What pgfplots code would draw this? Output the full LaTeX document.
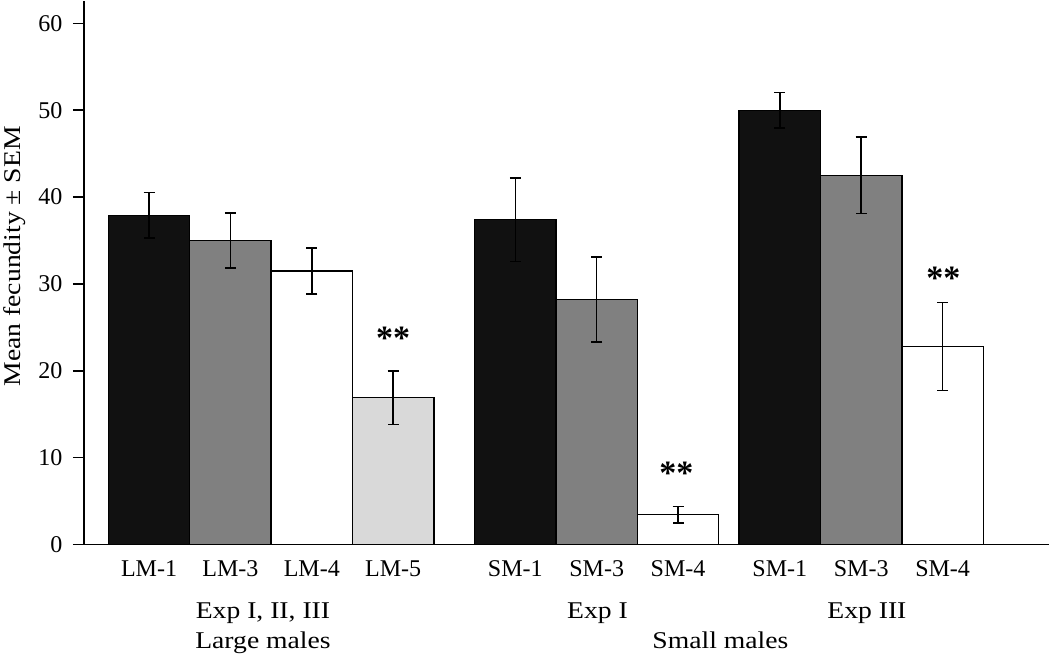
\documentclass[border=0pt]{standalone}
\usepackage{fontspec}
\setmainfont{Liberation Serif}
\usepackage{graphicx}
\usepackage{pgfplots}
\usepackage{pgfplotstable}
\pgfplotsset{compat=1.18}

\definecolor{barblack}{HTML}{111111}
\definecolor{bargray}{HTML}{808080}
\definecolor{barlight}{HTML}{D9D9D9}

% x = bar position, y = mean fecundity, e = SEM
\pgfplotstableread{
x     y     e
0.8   37.9  2.6
5.3   37.4  4.8
8.55  50.0  2.05
}\tblack
\pgfplotstableread{
x     y     e
1.8   35.0  3.15
6.3   28.2  4.9
9.55  42.5  4.4
}\tgray
\pgfplotstableread{
x     y     e
2.8   31.5  2.65
7.3   3.45  0.95
10.55 22.8  5.05
}\twhite
\pgfplotstableread{
x     y     e
3.8   16.9  3.1
}\tlight

% wide text used for the group labels and the y label
\newcommand{\wide}[1]{\scalebox{1.15}[1]{#1}}

\begin{document}
\begin{tikzpicture}[font=\fontsize{24}{28}\selectfont]
\begin{axis}[
  scale only axis, width=964pt, height=543pt,
  xmin=0, xmax=11.86, ymin=0, ymax=62.6,
  axis x line*=bottom, axis y line*=left, axis on top,
  axis line style={line width=1.5pt, -},
  ytick={0,10,...,60}, ytick pos=left,
  tick align=outside, major tick length=11pt,
  ytick style={line width=1.5pt, black},
  xtick={0.8,1.8,2.8,3.8,5.3,6.3,7.3,8.55,9.55,10.55},
  xticklabels={LM-1,LM-3,LM-4,LM-5,SM-1,SM-3,SM-4,SM-1,SM-3,SM-4},
  xtick style={draw=none},
  tick label style={font=\fontsize{24}{28}\selectfont},
  xticklabel style={anchor=base, yshift=-21pt},
  yticklabel style={xshift=-7pt},
  ylabel={\wide{Mean fecundity ± SEM}},
  ylabel style={font=\fontsize{24}{28}\selectfont, at={(ticklabel cs:0.53)}, yshift=6pt},
  /pgf/number format/assume math mode=true,
  ybar, bar width=1, bar shift=0pt,
  clip=false,
  every axis plot/.append style={draw=black, line width=1.3pt},
  error bars/y dir=both, error bars/y explicit,
  error bars/error bar style={line width=1.5pt, black},
  error bars/error mark options={rotate=90, line width=1.5pt, mark size=5.5pt, black},
]
\addplot[fill=barblack] table[x=x, y=y, y error=e] {\tblack};
\addplot[fill=bargray]  table[x=x, y=y, y error=e] {\tgray};
\addplot[fill=white]    table[x=x, y=y, y error=e] {\twhite};
\addplot[fill=barlight] table[x=x, y=y, y error=e] {\tlight};

% significance marks
\node[anchor=base, font=\fontsize{34}{36}\selectfont\bfseries] at (axis cs:3.80,22.4) {**};
\node[anchor=base, font=\fontsize{34}{36}\selectfont\bfseries] at (axis cs:7.28,6.85) {**};
\node[anchor=base, font=\fontsize{34}{36}\selectfont\bfseries] at (axis cs:10.56,29.3) {**};

% group labels
\node[anchor=base, yshift=-74pt] at (axis cs:2.20,0) {\wide{Exp I, II, III}};
\node[anchor=base, yshift=-104pt] at (axis cs:2.20,0) {\wide{Large males}};
\node[anchor=base, yshift=-74pt] at (axis cs:6.31,0) {\wide{Exp I}};
\node[anchor=base, yshift=-74pt] at (axis cs:9.62,0) {\wide{Exp III}};
\node[anchor=base, yshift=-104pt] at (axis cs:7.82,0) {\wide{Small males}};
\end{axis}
\end{tikzpicture}
\end{document}
